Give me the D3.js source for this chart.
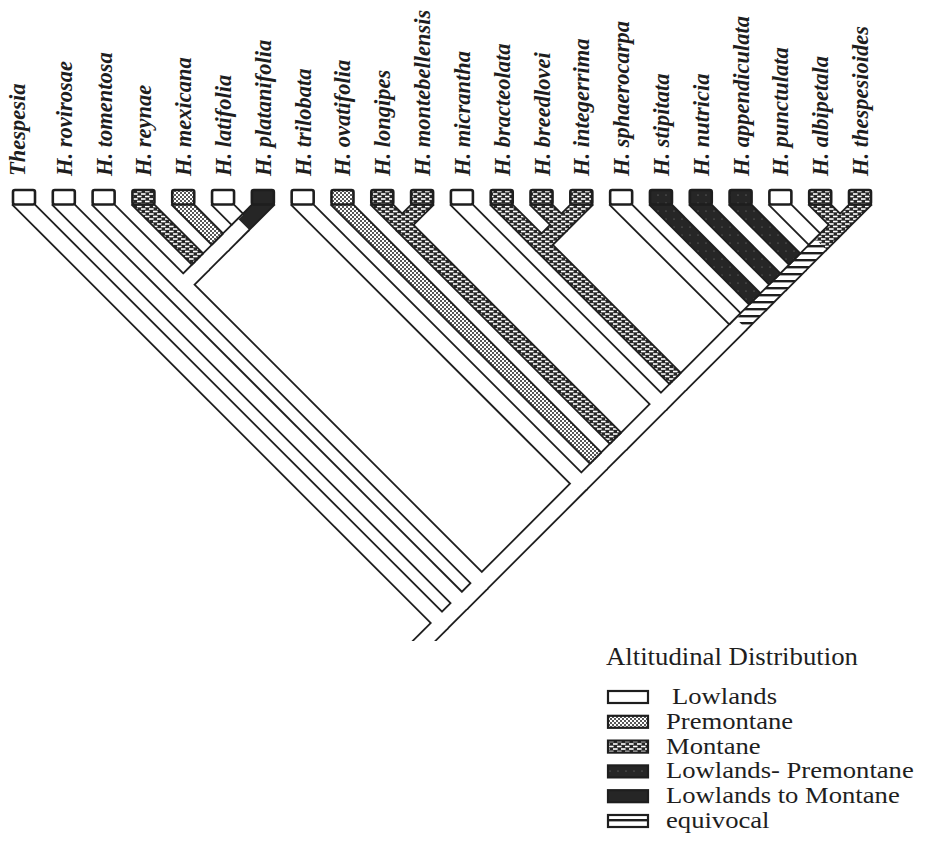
<!DOCTYPE html>
<html><head><meta charset="utf-8">
<script src="https://cdn.jsdelivr.net/npm/d3@7"></script>
<style>body{margin:0;background:#fff}</style>
</head><body>
<svg id="c" width="925" height="852"></svg>
<script>
// ---------------- data ----------------
const taxa = ["Thespesia","H. rovirosae","H. tomentosa","H. reynae","H. mexicana","H. latifolia","H. platanifolia",
  "H. trilobata","H. ovatifolia","H. longipes","H. montebellensis","H. micrantha","H. bracteolata","H. breedlovei",
  "H. integerrima","H. sphaerocarpa","H. stipitata","H. nutricia","H. appendiculata","H. punctulata","H. albipetala","H. thespesioides"];
const tipStates = ["L","L","L","M","P","L","LM","L","P","M","M","L","M","M","M","L","LP","LP","LP","L","M","M"];
// topology (tip indices); letters after ")" = state of the branch below that clade
const newick = "(0,(1,((2,(3,(4,(5,6)L)L)L)L,(7,(8,((9,10)M,(11,((12,(13,14)M)M,(15,(16,(17,(18,(19,(20,21)M)E)E)E)E)L)L)L)L)L)L)L)L)L";
const legendTitle = "Altitudinal Distribution";
const legendKeys = ["L","P","M","LP","LM","E"];
const legendLabels = ["Lowlands","Premontane","Montane","Lowlands- Premontane","Lowlands to Montane","equivocal"];

// ---------------- setup ----------------
const svg = d3.select("#c");
svg.append("rect").attr("width",925).attr("height",852).attr("fill","#fff");
const ink = "#1e1e1e";
const yTip = 205, hIn = 7.1, lw = 1.8;
const X = d3.scalePoint().domain(taxa).range([24, 860]);
const nT = taxa.length;
const Y = d3.scaleLinear().domain([0, nT-1]).range([yTip, yTip + X.step()*(nT-1)/2]);

const defs = svg.append("defs");
function pat(id,w,h){return defs.append("pattern").attr("id",id).attr("patternUnits","userSpaceOnUse").attr("width",w).attr("height",h);}
const pP = pat("pP",4,4);
pP.append("rect").attr("width",4).attr("height",4).attr("fill","#fff");
pP.append("circle").attr("cx",1).attr("cy",1).attr("r",1.0).attr("fill",ink);
pP.append("circle").attr("cx",3).attr("cy",3).attr("r",1.0).attr("fill",ink);
const pM = pat("pM",8,5);
pM.append("rect").attr("width",8).attr("height",5).attr("fill","#262626");
[[1,0.7],[5,3.2],[-3,3.2]].forEach(([x,y])=>pM.append("rect").attr("x",x).attr("y",y).attr("width",4.6).attr("height",1.6).attr("fill","#fff"));
const pLP = pat("pLP",8,8);
pLP.append("rect").attr("width",8).attr("height",8).attr("fill","#262626");
pLP.append("circle").attr("cx",2).attr("cy",3).attr("r",0.6).attr("fill","#888");
const pE = pat("pE",4,7);
pE.append("rect").attr("width",4).attr("height",7).attr("fill","#fff");
pE.append("rect").attr("width",4).attr("height",2.4).attr("fill",ink);
const fillOf = {L:"#fff", P:"url(#pP)", M:"url(#pM)", LP:"url(#pLP)", LM:"#262626", E:"url(#pE)"};

// ---------------- tree ----------------
function parse(s){
  let i=0;
  function node(){
    if(s[i]==='('){
      i++; const ch=[node()];
      while(s[i]===','){i++; ch.push(node());}
      i++; let st='';
      while(i<s.length && /[A-Z]/.test(s[i])) st+=s[i++];
      return {children:ch, state:st};
    }
    let num=''; while(/[0-9]/.test(s[i])) num+=s[i++];
    return {tip:+num, state:tipStates[+num]};
  }
  return node();
}
const root = parse(newick);
function layout(nd,parent){
  nd.parent=parent;
  if(nd.children){ nd.children.forEach(c=>layout(c,nd));
    nd.iL=d3.min(nd.children,c=>c.iL); nd.iR=d3.max(nd.children,c=>c.iR);
  } else { nd.iL=nd.iR=nd.tip; }
  nd.x=(X(taxa[nd.iL])+X(taxa[nd.iR]))/2;
  nd.y=Y(nd.iR-nd.iL);
}
layout(root,null);

function unit(a,b){const dx=b.x-a.x,dy=b.y-a.y,l=Math.hypot(dx,dy);return {x:dx/l,y:dy/l};}
const order=[]; const closures=[];
function dirOf(nd){ return nd.parent ? unit(nd,nd.parent) : nd.stemDir; }
const big = d3.greatest(root.children, c=>c.iR-c.iL);
root.stemDir = unit(big, root);
function walk(p){
  if(p.children){
    const pd = dirOf(p);
    const coll = p.children.find(c=>{const u=unit(c,p);return Math.sign(u.x)===Math.sign(pd.x);}) || p.children[1];
    const abut = p.children.filter(c=>c!==coll);
    abut.forEach(walk); walk(coll);
    abut.forEach(a=>{
      if(a.state!==p.state || a.state!==coll.state){
        const u=unit(a,p), nv={x:-u.y,y:u.x}, e=hIn+lw*0.5;
        const cx=p.x-u.x*(hIn+lw*0.5), cy=p.y-u.y*(hIn+lw*0.5);
        closures.push([[cx-nv.x*e,cy-nv.y*e],[cx+nv.x*e,cy+nv.y*e]]);
      }
    });
  }
  order.push(p);
}
walk(root);
const ext=0.8;
function segOf(nd){
  const u=dirOf(nd);
  let s,e;
  if(nd.parent){
    const back = nd.children?ext:9;
    s=[nd.x-u.x*back, nd.y-u.y*back];
    e=[nd.parent.x+u.x*ext, nd.parent.y+u.y*ext];
  } else {
    s=[nd.x-u.x*ext, nd.y-u.y*ext];
    e=[nd.x+u.x*60, nd.y+u.y*60];
  }
  return {s,e,state:nd.state};
}
const allSegs = order.map(segOf);

defs.append("clipPath").attr("id","treeClip").append("rect").attr("x",0).attr("y",0).attr("width",925).attr("height",641);
const tree = svg.append("g").attr("clip-path","url(#treeClip)");
const line = d=>`M${d.s[0]},${d.s[1]}L${d.e[0]},${d.e[1]}`;
tree.append("g").selectAll("path").data(allSegs).join("path")
  .attr("d",line).attr("stroke",ink).attr("stroke-width",2*(hIn+lw)).attr("fill","none").attr("stroke-linecap","butt");
tree.append("g").selectAll("path").data(allSegs).join("path")
  .attr("d",line).attr("stroke",d=>fillOf[d.state]).attr("stroke-width",2*hIn).attr("fill","none").attr("stroke-linecap","butt");
tree.append("g").selectAll("path").data(closures).join("path")
  .attr("d",d=>`M${d[0][0]},${d[0][1]}L${d[1][0]},${d[1][1]}`).attr("stroke",ink).attr("stroke-width",lw+0.2).attr("fill","none");

// tip boxes
svg.append("g").selectAll("rect").data(taxa).join("rect")
  .attr("x",d=>X(d)-11).attr("y",190).attr("width",22).attr("height",14.5).attr("rx",2)
  .attr("fill",(d,i)=>fillOf[tipStates[i]]).attr("stroke",ink).attr("stroke-width",2.6);

// labels
svg.append("g").selectAll("text").data(taxa).join("text")
  .attr("transform",(d,i)=>`translate(${X(d)+(i===0?1:8)},176) rotate(-90)`)
  .attr("font-family","'Liberation Serif','Times New Roman',serif").attr("font-style","italic").attr("font-weight","bold")
  .attr("font-size",22.5).attr("fill",ink).text(d=>d);

// legend
const LY = d3.scalePoint().domain(legendKeys).range([697, 821]);
const leg = svg.append("g");
leg.append("text").attr("transform","translate(606,665) scale(1.05,1)")
  .attr("font-family","'Liberation Serif',serif").attr("font-size",25.5).attr("fill",ink).text(legendTitle);
leg.selectAll("rect.sw").data(legendKeys).join("rect").attr("class","sw")
  .attr("x",608).attr("y",d=>LY(d)-6).attr("width",40).attr("height",12)
  .attr("fill",d=>fillOf[d]).attr("stroke",ink).attr("stroke-width",2.2);
leg.selectAll("text.lb").data(legendKeys).join("text").attr("class","lb")
  .attr("transform",(d,i)=>`translate(${i===0?672:666},${LY(d)+7}) scale(1.11,1)`)
  .attr("font-family","'Liberation Serif',serif").attr("font-size",24).attr("fill",ink)
  .text((d,i)=>legendLabels[i]);
</script>
</body></html>
